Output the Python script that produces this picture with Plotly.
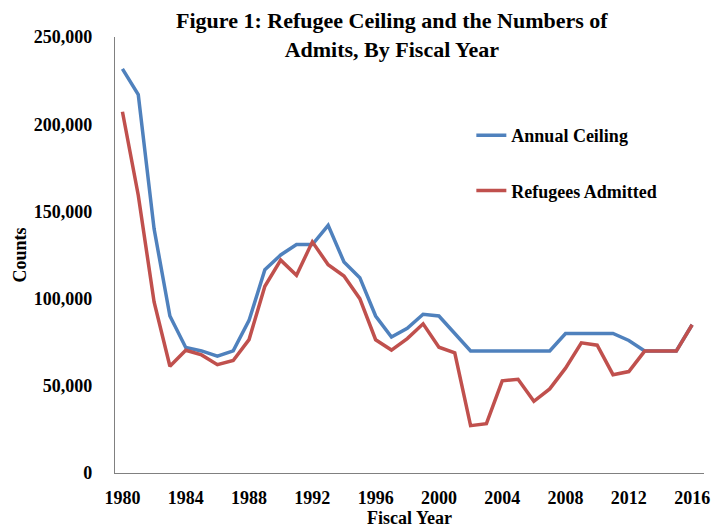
import plotly.graph_objects as go

years = list(range(1980, 2017))
ceiling = [231700, 217000, 140000, 90000, 72000, 70000, 67000, 70000, 87500, 116500,
           125000, 131000, 131000, 142000, 121000, 112000, 90000, 78000, 83000, 91000,
           90000, 80000, 70000, 70000, 70000, 70000, 70000, 70000, 80000, 80000,
           80000, 80000, 76000, 70000, 70000, 70000, 85000]
admitted = [207116, 159252, 98096, 61218, 70393, 67704, 62146, 64528, 76483, 107070,
            122066, 113389, 132531, 119448, 112981, 99974, 76403, 70488, 77080, 85525,
            72143, 68925, 27131, 28286, 52840, 53738, 41094, 48218, 60107, 74602,
            73293, 56384, 58179, 69909, 69975, 69920, 84995]
x_ticks = [1980, 1984, 1988, 1992, 1996, 2000, 2004, 2008, 2012, 2016]
y_ticks = [0, 50000, 100000, 150000, 200000, 250000]
y_tick_text = ["0", "50,000", "100,000", "150,000", "200,000", "250,000"]

serif = "Liberation Serif, Times New Roman, serif"

fig = go.Figure()
fig.add_trace(go.Scatter(x=years, y=ceiling, mode="lines", name="<b>Annual Ceiling</b>",
                         line=dict(color="#4F81BD", width=3.5), legendgroup="g0"))
fig.add_trace(go.Scatter(x=years, y=admitted, mode="lines", name="<b>Refugees Admitted</b>",
                         line=dict(color="#C0504D", width=3.5), legendgroup="g1"))

fig.update_layout(
    width=718, height=531,
    margin=dict(l=115, r=8, t=37, b=58),
    paper_bgcolor="white", plot_bgcolor="white",
    font=dict(family=serif, color="black"),
    showlegend=True,
    legend=dict(x=0.605, y=0.8165, xanchor="left", yanchor="top",
                font=dict(size=18, family=serif), tracegroupgap=29,
                bgcolor="rgba(0,0,0,0)", itemwidth=30),
    xaxis=dict(range=[1979.53, 2016.75], tickmode="array", tickvals=x_ticks,
               ticktext=["<b>%d</b>" % v for v in x_ticks],
               showline=True, linecolor="#808080", linewidth=1.3,
               showgrid=False, zeroline=False, ticks="", ticklen=0,
               ticklabelstandoff=8, ticklabeloverflow="allow",
               tickfont=dict(size=18, family=serif),
               title=dict(text="<b>Fiscal Year</b>", font=dict(size=18, family=serif), standoff=0)),
    yaxis=dict(range=[0, 250000], tickmode="array", tickvals=y_ticks,
               ticktext=["<b>%s</b>" % t for t in y_tick_text],
               showline=True, linecolor="#808080", linewidth=1.3,
               showgrid=False, zeroline=False, ticks="", ticklen=0,
               ticklabelstandoff=18,
               tickfont=dict(size=18, family=serif),
               title=dict(text="<b>Counts</b>", font=dict(size=18, family=serif), standoff=2)),
    annotations=[dict(text="<b>Figure 1: Refugee Ceiling and the Numbers of<br>Admits, By Fiscal Year</b>",
                      xref="paper", yref="paper", x=0.47, y=(473 - 6) / 436,
                      xanchor="center", yanchor="top", showarrow=False,
                      font=dict(size=22, family=serif))],
)

fig.write_html("out.html")
